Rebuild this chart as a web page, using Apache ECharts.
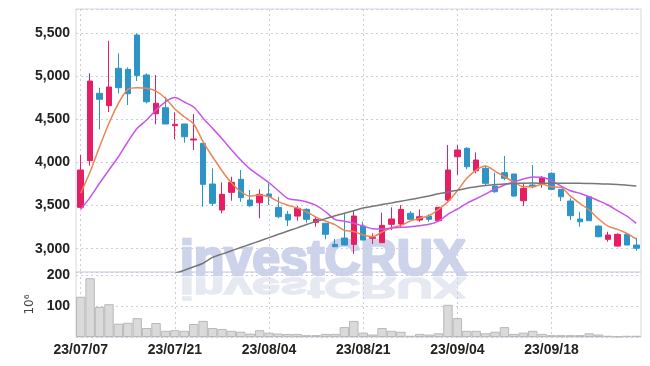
<!DOCTYPE html>
<html><head><meta charset="utf-8">
<script src="https://cdn.jsdelivr.net/npm/echarts@6/dist/echarts.min.js"></script>
<style>html,body{margin:0;padding:0;background:#fff}#c{width:650px;height:366px}</style>
</head><body><div id="c"></div>
<script>
const dates = ['23/07/07','23/07/10','23/07/11','23/07/12','23/07/13','23/07/14','23/07/17','23/07/18','23/07/19','23/07/20',
'23/07/21','23/07/24','23/07/25','23/07/26','23/07/27','23/07/28','23/07/31','23/08/01','23/08/02','23/08/03',
'23/08/04','23/08/07','23/08/08','23/08/09','23/08/10','23/08/11','23/08/14','23/08/16','23/08/17','23/08/18',
'23/08/21','23/08/22','23/08/23','23/08/24','23/08/25','23/08/28','23/08/29','23/08/30','23/08/31','23/09/01',
'23/09/04','23/09/05','23/09/06','23/09/07','23/09/08','23/09/11','23/09/12','23/09/13','23/09/14','23/09/15',
'23/09/18','23/09/19','23/09/20','23/09/21','23/09/22','23/09/25','23/09/26','23/09/27','23/10/04','23/10/05'];
const open  = [3480,4021,4803,4659,5093,5081,5479,5015,4566,4636,4427,4447,4261,4223,3751,3449,3654,3805,3565,3534,
               3635,3480,3399,3379,3457,3306,3295,3051,3124,3051,3263,3121,3070,3283,3287,3411,3333,3379,3325,3565,
               4067,4165,3905,3933,3727,3882,3867,3557,3739,3759,3875,3689,3553,3345,3603,3263,3109,3031,3167,3043];
const close = [3913,4945,4733,4876,4868,4798,5007,4705,4687,4447,4443,4299,4273,3747,3527,3631,3770,3592,3499,3631,
               3606,3371,3333,3469,3341,3341,3167,3023,3043,3379,3101,3132,3271,3345,3457,3341,3371,3341,3480,3913,
               4145,3951,4029,3759,3661,3817,3611,3701,3719,3824,3689,3603,3383,3313,3325,3139,3159,3167,3043,3005];
const low   = [3469,3963,4385,4586,4803,4667,4945,4687,4443,4447,4269,4230,4145,3487,3495,3411,3557,3545,3487,3353,
               3507,3353,3263,3325,3302,3255,3109,3023,3040,2940,3101,3055,3070,3217,3248,3341,3313,3313,3325,3553,
               3855,3921,3875,3739,3650,3797,3603,3495,3701,3708,3689,3553,3333,3255,3325,3132,3081,3023,3043,2977];
const high  = [4087,5035,4868,5413,5267,5104,5499,5035,5015,4763,4582,4450,4563,4225,3933,3770,3835,3913,3681,3689,
               3759,3603,3437,3495,3469,3371,3295,3113,3411,3449,3313,3179,3418,3480,3507,3437,3457,3399,3487,4203,
               4203,4176,4118,3959,3882,4075,3867,3766,3971,3843,3886,3689,3585,3429,3611,3270,3197,3179,3186,3128];
const ma5   = [3643,3893,4183,4455,4687,4849,4868,4861,4829,4745,4620,4531,4447,4240,4067,3905,3765,3661,3611,3623,
               3603,3546,3505,3474,3425,3367,3321,3279,3213,3200,3159,3139,3194,3244,3271,3321,3353,3383,3457,3545,
               3673,3817,3913,3959,3901,3835,3774,3719,3719,3747,3719,3712,3611,3527,3449,3345,3263,3225,3179,3113];
const ma10  = [3457,3596,3759,3913,4067,4241,4397,4493,4609,4705,4754,4702,4644,4515,4397,4277,4149,4029,3923,3845,
               3765,3673,3581,3565,3542,3503,3429,3341,3318,3295,3263,3232,3229,3240,3248,3255,3267,3283,3321,3399,
               3461,3527,3580,3635,3693,3739,3774,3809,3832,3828,3789,3727,3673,3643,3603,3557,3507,3441,3379,3295];
const ma60  = [null,null,null,null,null,null,null,null,null,null,2712,2750,2790,2832,2899,2937,2976,3014,3052,3090,
               3129,3167,3205,3242,3282,3317,3349,3382,3412,3441,3472,3492,3512,3531,3551,3571,3591,3612,3637,3659,
               3679,3701,3718,3733,3745,3752,3757,3760,3762,3760,3759,3759,3759,3759,3757,3755,3750,3744,3737,3727];
const volume = [130,190,97,106,43,46,61,29,45,20,22,20,42,52,29,26,20,17,11,22,
                14,11,10,10,6,6,10,10,32,52,14,8,29,20,17,4,10,8,12,104,
                61,20,20,12,17,32,10,14,20,10,6,6,6,6,12,8,4,2,4,4];

const candles = dates.map((d,i)=>[open[i],close[i],low[i],high[i]]);
const LF = "'Liberation Sans',Arial,sans-serif";
const gridLine = {show:true, alignWithLabel:true, interval:9, lineStyle:{color:'#c9cde0', type:[2,3], width:1}};
const chart = echarts.init(document.getElementById('c'), null, {renderer:'canvas'});
chart.setOption({
  animation:false,
  backgroundColor:'#fff',
  grid:[
    {left:76, right:9, top:9, height:263, show:true, borderColor:'#d6d8e2', borderWidth:1},
    {left:76, right:9, top:272, height:65, show:true, borderColor:'#d6d8e2', borderWidth:1}
  ],
  graphic:[
    {type:'text', x:323, y:286, z:0, silent:true,
     style:{text:'investCRUX', font:"bold 50px 'Liberation Sans'", fill:'#cdd3ea', stroke:'#cdd3ea', lineWidth:2.5, textAlign:'center', textVerticalAlign:'bottom'}},
    {type:'text', x:323, y:271, scaleY:-0.6, z:0, silent:true,
     style:{text:'investCRUX', font:"bold 50px 'Liberation Sans'", fill:'#e6e8f2', stroke:'#e6e8f2', lineWidth:2.5, textAlign:'center', textVerticalAlign:'bottom'}}
  ],
  xAxis:[
    {type:'category', gridIndex:0, data:dates, boundaryGap:true,
     axisLine:{show:false}, axisTick:{show:false}, axisLabel:{show:false}, splitLine:gridLine},
    {type:'category', gridIndex:1, data:dates, boundaryGap:true,
     axisLine:{show:false}, axisTick:{show:false},
     axisLabel:{interval:9, color:'#222', fontFamily:LF, fontWeight:'bold', fontSize:14, margin:6},
     splitLine:gridLine}
  ],
  yAxis:[
    {type:'value', gridIndex:0, min:2730, max:5781, splitNumber:5, scale:true,
     axisLine:{show:false}, axisTick:{show:false},
     axisLabel:{showMinLabel:false, showMaxLabel:false, color:'#222', fontFamily:LF, fontWeight:'bold', fontSize:14, margin:6,
       formatter:v=>v.toLocaleString('en-US')},
     splitLine:{show:true, lineStyle:{color:'#c9cde0', type:[2,3]}}},
    {type:'value', gridIndex:1, min:0, max:210, interval:100,
     name:'10\u2076', nameLocation:'middle', nameRotate:90, nameGap:27,
     nameTextStyle:{color:'#444', fontFamily:'DejaVu Sans', fontSize:12},
     axisLine:{show:false}, axisTick:{show:false},
     axisLabel:{showMinLabel:false, showMaxLabel:false, color:'#222', fontFamily:LF, fontWeight:'bold', fontSize:14, margin:6},
     splitLine:{show:true, lineStyle:{color:'#c9cde0', type:[2,3]}}}
  ],
  series:[
    {type:'candlestick', name:'price', xAxisIndex:0, yAxisIndex:0, data:candles, barWidth:6, z:3,
     itemStyle:{color:'#e61e64', color0:'#2e94c6', borderColor:'#e61e64', borderColor0:'#2e94c6', borderWidth:1}},
    {type:'line', name:'MA5', xAxisIndex:0, yAxisIndex:0, data:ma5, symbol:'none', smooth:0.25, z:4,
     lineStyle:{color:'#ee8450', width:1.5}},
    {type:'line', name:'MA10', xAxisIndex:0, yAxisIndex:0, data:ma10, symbol:'none', smooth:0.25, z:4,
     lineStyle:{color:'#c855ea', width:1.5}},
    {type:'line', name:'MA60', xAxisIndex:0, yAxisIndex:0, data:ma60, symbol:'none', smooth:0.25, z:4,
     lineStyle:{color:'#777777', width:1.5}},
    {type:'bar', name:'volume', xAxisIndex:1, yAxisIndex:1, data:volume, barCategoryGap:'0%', z:3,
     itemStyle:{color:'#dadada', borderColor:'#b8b8b8', borderWidth:1}}
  ]
});
</script></body></html>
